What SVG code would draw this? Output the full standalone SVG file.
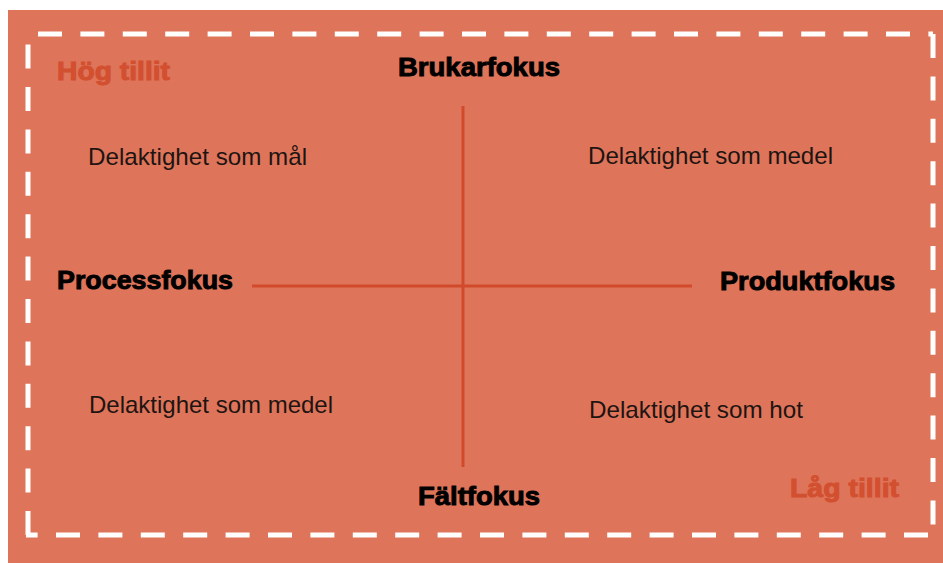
<svg xmlns="http://www.w3.org/2000/svg" width="943" height="563" viewBox="0 0 943 563">
<style>
.bg{fill:#DE7459}
.dash{stroke:#FFFFFF;stroke-width:5;fill:none;stroke-dasharray:24 18.4}
.axis{stroke:#D14A2B;stroke-width:3;fill:none}
.q{font-family:"Liberation Sans",Arial,sans-serif;font-size:24px;fill:#1E1412}
.ax{font-family:"Liberation Sans",Arial,sans-serif;font-size:25px;font-weight:bold;fill:#000;stroke:#000;stroke-width:0.9}
.trust{font-family:"Liberation Sans",Arial,sans-serif;font-size:25px;font-weight:bold;fill:#D24F2F;stroke:#D24F2F;stroke-width:0.9}
</style>
<rect class="bg" x="8" y="10" width="935" height="553"/>
<g id="frame">
<line class="dash" x1="38" y1="34" x2="933" y2="34"/>
<line class="dash" x1="933" y1="34" x2="933" y2="535"/>
<line class="dash" x1="928" y1="535" x2="26" y2="535"/>
<line class="dash" x1="28" y1="535" x2="28" y2="34"/>
</g>
<g id="connectors">
<line class="axis" x1="463" y1="106" x2="463" y2="467"/>
<line class="axis" x1="252" y1="286" x2="692" y2="286"/>
</g>
<g id="hog-tillit"><text class="trust" x="57" y="80" textLength="113" lengthAdjust="spacingAndGlyphs">Hög tillit</text></g>
<g id="lag-tillit"><text class="trust" x="790" y="497" textLength="109" lengthAdjust="spacingAndGlyphs">Låg tillit</text></g>
<g id="brukarfokus"><text class="ax" x="398" y="76" textLength="162" lengthAdjust="spacingAndGlyphs">Brukarfokus</text></g>
<g id="faltfokus"><text class="ax" x="418" y="505" textLength="122" lengthAdjust="spacingAndGlyphs">Fältfokus</text></g>
<g id="processfokus"><text class="ax" x="57" y="289" textLength="176" lengthAdjust="spacingAndGlyphs">Processfokus</text></g>
<g id="produktfokus"><text class="ax" x="720" y="290" textLength="175" lengthAdjust="spacingAndGlyphs">Produktfokus</text></g>
<g id="q-top-left"><text class="q" x="88" y="165" textLength="219" lengthAdjust="spacingAndGlyphs">Delaktighet som mål</text></g>
<g id="q-top-right"><text class="q" x="588" y="164" textLength="245" lengthAdjust="spacingAndGlyphs">Delaktighet som medel</text></g>
<g id="q-bottom-left"><text class="q" x="89" y="413" textLength="244" lengthAdjust="spacingAndGlyphs">Delaktighet som medel</text></g>
<g id="q-bottom-right"><text class="q" x="589" y="418" textLength="214" lengthAdjust="spacingAndGlyphs">Delaktighet som hot</text></g>
</svg>
